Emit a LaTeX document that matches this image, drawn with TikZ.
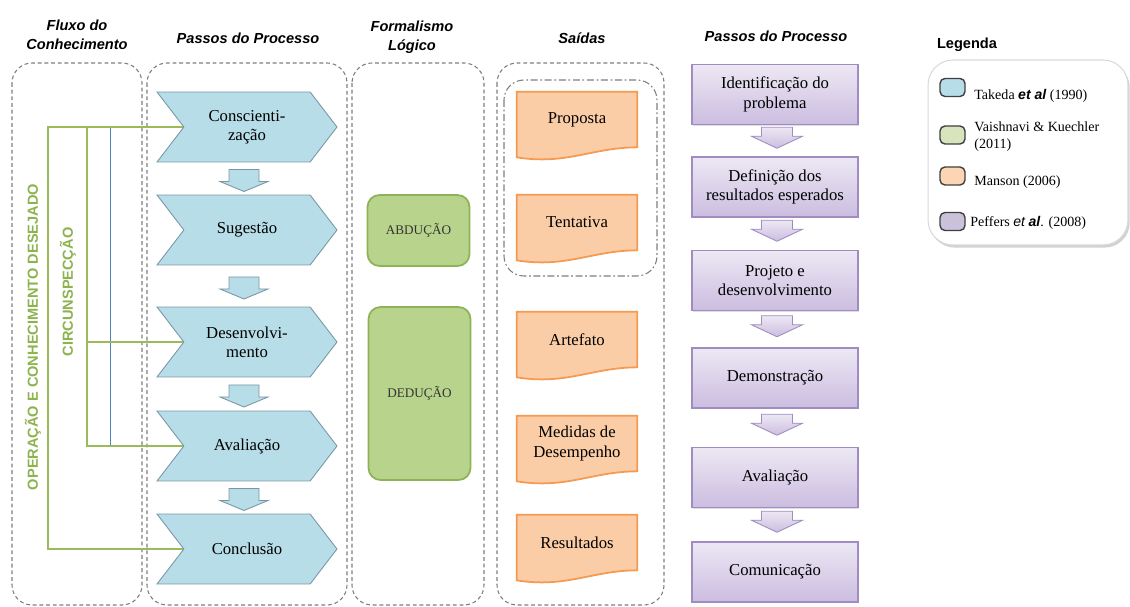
\documentclass[tikz,border=0pt]{standalone}
\usepackage{fontspec}
\setmainfont{Liberation Serif}
\setsansfont{Liberation Sans}
\usetikzlibrary{shapes.symbols,shadows,calc,backgrounds}
\definecolor{chevfill}{HTML}{B7DDE8}
\definecolor{chevdraw}{HTML}{7A97A6}
\definecolor{grnfill}{HTML}{B8D48C}
\definecolor{grndraw}{HTML}{8EB356}
\definecolor{grnline}{HTML}{9BBB59}
\definecolor{grntext}{HTML}{8DB34F}
\definecolor{orgfill}{HTML}{FBCDA6}
\definecolor{orgdraw}{HTML}{F59A50}
\definecolor{purtop}{HTML}{EDE8F4}
\definecolor{purbot}{HTML}{CBBDE0}
\definecolor{purdraw}{HTML}{A08CC0}
\definecolor{boxgray}{HTML}{7F7F7F}
\definecolor{blueline}{HTML}{4F81BD}
\tikzset{
 colbox/.style={draw=boxgray, line width=0.6pt, dash pattern=on 2.2pt off 1.6pt, rounded corners=0.4cm},
 innerbox/.style={draw=boxgray, line width=0.6pt, dash pattern=on 4pt off 1.5pt on 1pt off 1.5pt, rounded corners=0.4cm},
 hdr/.style={font=\sffamily\bfseries\itshape\fontsize{8.3}{11}\selectfont, align=center, inner sep=0pt},
 boxtxt/.style={font=\fontsize{9.5}{11}\selectfont, align=center},
 chev/.style={boxtxt, signal, signal from=west, signal to=east, signal pointer angle=105,
   fill=chevfill, draw=chevdraw, line width=0.5pt, minimum width=3.6cm, minimum height=1.4cm, inner sep=0pt},
 grnbox/.style={font=\fontsize{7.5}{9}\selectfont, text=black!80, fill=grnfill, draw=grndraw, line width=1pt,
   rounded corners=0.24cm, minimum width=2.04cm, align=center},
 docnode/.style={boxtxt, minimum width=2.4cm, minimum height=1.1cm, inner sep=0pt},
 docline/.style={fill=orgfill, draw=orgdraw, line width=1pt},
 purbox/.style={boxtxt, top color=purtop, bottom color=purbot, draw=purdraw, line width=0.6pt,
   minimum width=3.32cm, minimum height=1.2cm, inner sep=0pt,
   drop shadow={opacity=0.25, shadow xshift=0.8pt, shadow yshift=-0.8pt}},
 grn/.style={draw=grnline, line width=1.1pt},
 vtxt/.style={font=\sffamily\bfseries\fontsize{8.3}{10}\selectfont, text=grntext, rotate=90, inner sep=0pt},
 swatch/.style={minimum width=0.5cm, minimum height=0.36cm, rounded corners=0.1cm, draw=black!75, line width=0.8pt, inner sep=0pt},
 legtxt/.style={font=\fontsize{8}{9.5}\selectfont, align=left, anchor=west, inner sep=0pt},
 bluearr/.pic={\path[fill=chevfill, draw=chevdraw, line width=0.5pt] (-15,-11) -- (15,-11) -- (15,1) -- (24,1) -- (0,11) -- (-24,1) -- (-15,1) -- cycle;},
 purarr/.pic={\path[top color=purtop, bottom color=purbot, draw=purdraw, line width=0.5pt] (-15.5,-10.5) -- (15.5,-10.5) -- (15.5,-1.5) -- (25.5,-1.5) -- (0,10.5) -- (-25.5,-1.5) -- (-15.5,-1.5) -- cycle;}
}
\newcommand\docshape[1]{\path[docline] (#1.south west) -- (#1.north west) -- (#1.north east) -- (#1.south east)
  .. controls ($(#1.south east)+(-45,0)$) and ($(#1.south west)+(50,18)$) .. ($(#1.south west)+(0,10)$) -- cycle;}
\begin{document}
\begin{tikzpicture}[x=0.02cm,y=-0.02cm]
\useasboundingbox (0,0) rectangle (1130,607);
% column boxes
\draw[colbox] (12,63) rectangle (142,605);
\draw[colbox] (147,63) rectangle (347,605);
\draw[colbox] (352,63) rectangle (484,605);
\draw[colbox] (497,63) rectangle (664,605);
\draw[innerbox] (504,80) rectangle (657,276);
% headers
\node[hdr] (h1) at (77,35) {Fluxo do\\Conhecimento};
\node[hdr] (h2) at (248,38) {Passos do Processo};
\node[hdr] (h3) at (412,37) {Formalismo\\Lógico};
\node[hdr] (h4) at (582,38) {Saídas};
\node[hdr] (h5) at (776,36) {Passos do Processo};
\node[font=\sffamily\bfseries\fontsize{8.3}{10}\selectfont, inner sep=0pt] (h6) at (967,45) {Legenda};
% chevrons
\node[chev] (c1) at (247,127) {Conscienti-\\zação};
\node[chev] (c2) at (247,230) {Sugestão};
\node[chev] (c3) at (247,342) {Desenvolvi-\\mento};
\node[chev] (c4) at (247,446) {Avaliação};
\node[chev] (c5) at (247,549) {Conclusão};
\pic at ($(c1.south)!0.5!(c2.north)+(-3,2)$) {bluearr};
\pic at ($(c2.south)!0.5!(c3.north)+(-3,2)$) {bluearr};
\pic at ($(c3.south)!0.5!(c4.north)+(-3,2)$) {bluearr};
\pic at ($(c4.south)!0.5!(c5.north)+(-3,2)$) {bluearr};
% knowledge flow lines
\coordinate (L1) at (48,0);
\coordinate (L2) at (87,0);
\coordinate (L3) at (110,0);
\draw[blueline, line width=0.5pt] (c1.west -| L3) -- (c4.west -| L3);
\draw[grn] (c1.west) -- (c1.west -| L1) -- (c5.west -| L1) -- (c5.west);
\draw[grn] (c1.west -| L2) -- (c4.west -| L2) -- (c4.west);
\draw[grn] (c3.west -| L2) -- (c3.west);
\node[vtxt] (t1) at (33,337) {OPERAÇÃO E CONHECIMENTO DESEJADO};
\node[vtxt] (t2) at (68,292) {CIRCUNSPECÇÃO};
% logical formalism
\node[grnbox, minimum height=1.42cm] (abd) at (418.5,230.5) {ABDUÇÃO};
\node[grnbox, minimum height=3.46cm] (ded) at (419.5,393.5) {DEDUÇÃO};
% outputs
\node[docnode] (o1) at (577,119.5) {Proposta};
\node[docnode] (o2) at (577,222.5) {Tentativa};
\node[docnode] (o3) at (577,339.5) {Artefato};
\node[docnode] (o4) at (577,443.5) {Medidas de\\Desempenho};
\node[docnode] (o5) at (577,542.5) {Resultados};
% purple steps
\node[purbox] (p1) at (775,94.5) {Identificação do\\problema};
\node[purbox] (p2) at (775,187) {Definição dos\\resultados esperados};
\node[purbox] (p3) at (775,280.5) {Projeto e\\desenvolvimento};
\node[purbox] (p4) at (775,378) {Demonstração};
\node[purbox] (p5) at (775,477.5) {Avaliação};
\node[purbox] (p6) at (775,572) {Comunicação};
\pic at ($(p1.south)!0.5!(p2.north)+(2,-3)$) {purarr};
\pic at ($(p2.south)!0.5!(p3.north)+(2,-3)$) {purarr};
\pic at ($(p3.south)!0.5!(p4.north)+(2,-3)$) {purarr};
\pic at ($(p4.south)!0.5!(p5.north)+(2,-3)$) {purarr};
\pic at ($(p5.south)!0.5!(p6.north)+(2,-3)$) {purarr};
% legend
\node[fill=white, draw=black!15, line width=0.6pt, rounded corners=0.5cm, minimum width=4cm, minimum height=3.7cm,
  drop shadow={opacity=0.35, shadow xshift=1pt, shadow yshift=-1.5pt}] (leg) at (1028,152.5) {};
\node[swatch, fill=chevfill] (s1) at (952.5,87.5) {};
\node[swatch, fill={rgb,255:red,215;green,228;blue,189}] (s2) at (952.5,135) {};
\node[swatch, fill={rgb,255:red,252;green,213;blue,180}] (s3) at (952.5,176) {};
\node[swatch, fill={rgb,255:red,204;green,193;blue,218}] (s4) at (952.5,221.5) {};
\node[legtxt] (l1) at (974,96) {Takeda {\sffamily\bfseries\itshape et al} (1990)};
\node[legtxt] (l2) at (974,136.5) {Vaishnavi \& Kuechler\\(2011)};
\node[legtxt] (l3) at (974,182) {Manson (2006)};
\node[legtxt] (l4) at (970,223) {Peffers {\sffamily\itshape et} {\sffamily\bfseries\itshape al}. (2008)};
\begin{scope}[on background layer]
\fill[white] (0,0) rectangle (1130,607);
\docshape{o1}
\docshape{o2}
\docshape{o3}
\docshape{o4}
\docshape{o5}
\end{scope}
\end{tikzpicture}
\end{document}
